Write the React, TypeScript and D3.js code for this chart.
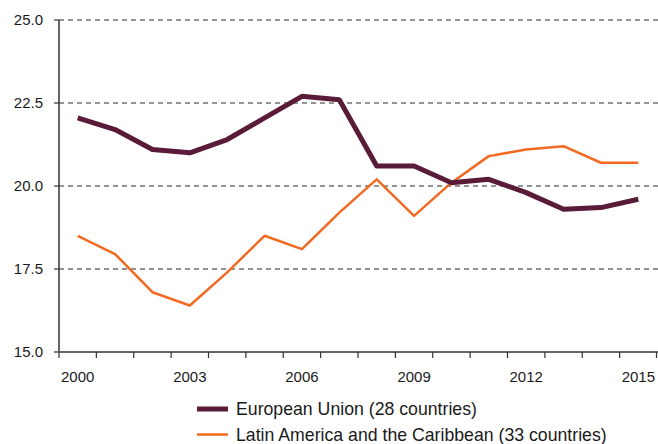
import { useMemo } from "react";
import * as d3 from "d3";

const years = [
  2000, 2001, 2002, 2003, 2004, 2005, 2006, 2007, 2008, 2009, 2010, 2011, 2012,
  2013, 2014, 2015,
];
const euValues = [
  22.05, 21.7, 21.1, 21.0, 21.4, 22.05, 22.7, 22.6, 20.6, 20.6, 20.1, 20.2,
  19.8, 19.3, 19.35, 19.6,
];
const lacValues = [
  18.5, 17.95, 16.8, 16.4, 17.4, 18.5, 18.1, 19.2, 20.2, 19.1, 20.1, 20.9,
  21.1, 21.2, 20.7, 20.7,
];
const yTicks = [15, 17.5, 20, 22.5, 25];
const xLabels = [2000, 2003, 2006, 2009, 2012, 2015];
const seriesNames = [
  "European Union (28 countries)",
  "Latin America and the Caribbean (33 countries)",
];

const W = 658;
const H = 444;
const margin = { left: 59, right: 1, top: 20, bottom: 92 };
const EU_COLOR = "#5a1b38";
const LAC_COLOR = "#f26a22";
const FONT = "Liberation Sans, Arial, sans-serif";

export default function App() {
  const x = useMemo(
    () =>
      d3
        .scaleBand<number>()
        .domain(years)
        .range([margin.left, W - margin.right]),
    []
  );
  const y = useMemo(
    () =>
      d3
        .scaleLinear()
        .domain([15, 25])
        .range([H - margin.bottom, margin.top]),
    []
  );

  const cx = (yr: number) => (x(yr) ?? 0) + x.bandwidth() / 2;
  const line = d3
    .line<number>()
    .x((_d, i) => cx(years[i]))
    .y((d) => y(d));

  const bottom = y(15);

  return (
    <svg
      width={W}
      height={H}
      style={{ position: "absolute", left: 0, top: 0 }}
      fontFamily={FONT}
    >
      {yTicks
        .filter((t) => t > 15)
        .map((t) => (
          <line
            key={t}
            x1={margin.left}
            x2={W}
            y1={y(t)}
            y2={y(t)}
            stroke={t === 17.5 ? "#6e6e6e" : "#2a2a2a"}
            strokeWidth={t === 17.5 ? 1.6 : 1.1}
            strokeDasharray="5,4"
          />
        ))}
      {yTicks.map((t) => (
        <g key={t}>
          <line
            x1={margin.left - 5}
            x2={margin.left}
            y1={y(t)}
            y2={y(t)}
            stroke="#333"
            strokeWidth={1.2}
          />
          <text
            x={43}
            y={y(t)}
            dy="0.35em"
            textAnchor="end"
            fontSize={15}
            fill="#1a1a1a"
          >
            {t.toFixed(1)}
          </text>
        </g>
      ))}
      <line
        x1={margin.left}
        x2={margin.left}
        y1={margin.top}
        y2={bottom}
        stroke="#333"
        strokeWidth={1.5}
      />
      <line
        x1={margin.left}
        x2={W}
        y1={bottom}
        y2={bottom}
        stroke="#666"
        strokeWidth={2}
      />
      {years.map((yr) => (
        <line
          key={yr}
          x1={x(yr)}
          x2={x(yr)}
          y1={bottom}
          y2={bottom + 6}
          stroke="#333"
          strokeWidth={1.2}
        />
      ))}
      <line
        x1={W - 1.5}
        x2={W - 1.5}
        y1={bottom}
        y2={bottom + 6}
        stroke="#333"
        strokeWidth={1.2}
      />
      {xLabels.map((yr) => (
        <text
          key={yr}
          x={cx(yr)}
          y={382}
          textAnchor="middle"
          fontSize={15}
          fill="#1a1a1a"
        >
          {yr}
        </text>
      ))}
      <path
        d={line(lacValues) ?? ""}
        fill="none"
        stroke={LAC_COLOR}
        strokeWidth={2.5}
        strokeLinejoin="round"
      />
      <path
        d={line(euValues) ?? ""}
        fill="none"
        stroke={EU_COLOR}
        strokeWidth={5}
        strokeLinejoin="round"
      />
      {seriesNames.map((name, i) => (
        <g key={name} transform={`translate(197, ${409 + i * 25.5})`}>
          <line
            x1={0}
            x2={31}
            y1={0}
            y2={0}
            stroke={i === 0 ? EU_COLOR : LAC_COLOR}
            strokeWidth={i === 0 ? 5 : 2.5}
          />
          <text x={39} y={0} dy="0.35em" fontSize={17.7} fill="#1a1a1a">
            {name}
          </text>
        </g>
      ))}
    </svg>
  );
}
